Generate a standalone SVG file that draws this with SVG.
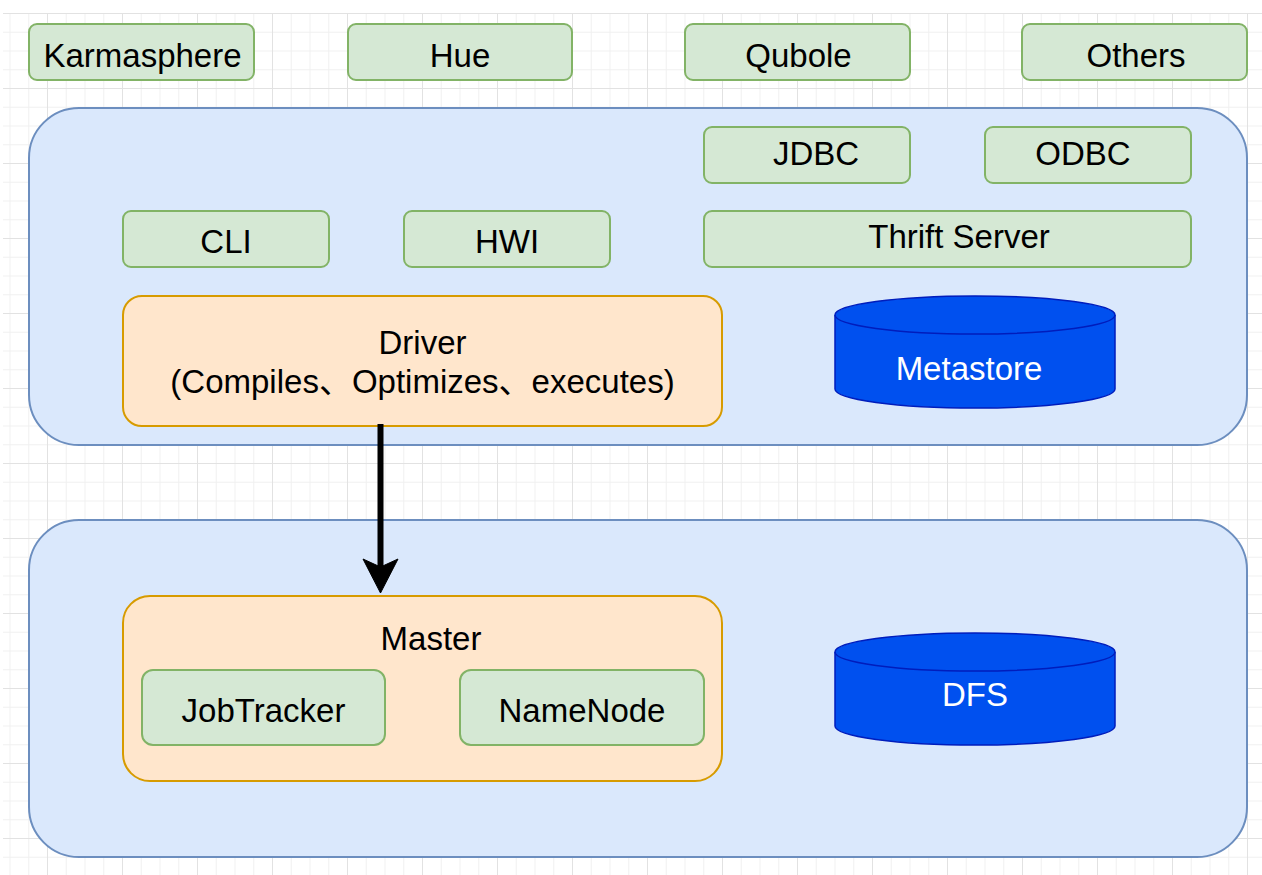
<svg xmlns="http://www.w3.org/2000/svg" width="1262" height="875" viewBox="0 0 1262 875">
<style>
  .g { fill: #d5e8d4; stroke: #82b366; stroke-width: 2; }
  .o { fill: #ffe6cc; stroke: #d79b00; stroke-width: 2; }
  .b { fill: #dae8fc; stroke: #6c8ebf; stroke-width: 2; }
  .c { fill: #0050ef; stroke: #001dbc; stroke-width: 1.5; }
  text { font-family: "Liberation Sans", Arial, "Noto Sans CJK SC", sans-serif; font-size: 33px; text-anchor: middle; fill: #000; }
  .w { fill: #fff; }
</style>
<defs>
  <pattern id="grid" patternUnits="userSpaceOnUse" x="-28" y="13" width="75" height="75">
    <rect width="75" height="75" fill="#fff"/>
    <g fill="#f1f1f1">
      <rect x="18.75" y="0" width="1" height="75"/>
      <rect x="37.5" y="0" width="1" height="75"/>
      <rect x="56.25" y="0" width="1" height="75"/>
      <rect x="0" y="18.75" width="75" height="1"/>
      <rect x="0" y="37.5" width="75" height="1"/>
      <rect x="0" y="56.25" width="75" height="1"/>
    </g>
    <g fill="#e2e2e2">
      <rect x="0" y="0" width="1" height="75"/>
      <rect x="0" y="0" width="75" height="1"/>
    </g>
  </pattern>
</defs>
<rect x="0" y="0" width="1262" height="875" fill="#fff"/>
<rect x="3" y="13" width="1259" height="862" fill="url(#grid)"/>

<g id="top-container"><rect class="b" x="29" y="108" width="1218" height="337" rx="50"/></g>
<g id="bottom-container"><rect class="b" x="29" y="520" width="1218" height="337" rx="50"/></g>

<g id="karmasphere"><rect class="g" x="29" y="24" width="225" height="56" rx="8"/><text x="142.5" y="67">Karmasphere</text></g>
<g id="hue"><rect class="g" x="348" y="24" width="224" height="56" rx="8"/><text x="460" y="67">Hue</text></g>
<g id="qubole"><rect class="g" x="685" y="24" width="225" height="56" rx="8"/><text x="798.5" y="67">Qubole</text></g>
<g id="others"><rect class="g" x="1022" y="24" width="225" height="56" rx="8"/><text x="1136" y="67">Others</text></g>

<g id="jdbc"><rect class="g" x="704" y="127" width="206" height="56" rx="8"/><text x="816" y="165">JDBC</text></g>
<g id="odbc"><rect class="g" x="985" y="127" width="206" height="56" rx="8"/><text x="1083" y="165">ODBC</text></g>
<g id="cli"><rect class="g" x="123" y="211" width="206" height="56" rx="8"/><text x="226" y="253">CLI</text></g>
<g id="hwi"><rect class="g" x="404" y="211" width="206" height="56" rx="8"/><text x="507" y="253">HWI</text></g>
<g id="thrift"><rect class="g" x="704" y="211" width="487" height="56" rx="8"/><text x="959" y="248">Thrift Server</text></g>

<g id="driver"><rect class="o" x="123" y="296" width="599" height="130" rx="19"/><text x="422.5" y="354">Driver</text><text x="422.5" y="393">(Compiles、Optimizes、executes)</text></g>

<g id="metastore">
  <path class="c" d="M835,315 a140,19 0 0 1 280,0 v74 a140,19 0 0 1 -280,0 z"/>
  <path class="c" fill="none" d="M835,315 a140,19 0 0 0 280,0"/>
  <text class="w" x="969" y="380">Metastore</text>
</g>

<g id="master">
  <rect class="o" x="123" y="596" width="599" height="185" rx="27"/>
  <text x="431" y="650">Master</text>
</g>
<g id="jobtracker"><rect class="g" x="142" y="670" width="243" height="75" rx="11"/><text x="263.5" y="722">JobTracker</text></g>
<g id="namenode"><rect class="g" x="460" y="670" width="244" height="75" rx="11"/><text x="582" y="722">NameNode</text></g>

<g id="dfs">
  <path class="c" d="M835,652 a140,19 0 0 1 280,0 v74 a140,19 0 0 1 -280,0 z"/>
  <path class="c" fill="none" d="M835,652 a140,19 0 0 0 280,0"/>
  <text class="w" x="975" y="706">DFS</text>
</g>

<g id="connectors">
  <line x1="380.5" y1="424" x2="380.5" y2="568" stroke="#000" stroke-width="6"/>
  <path d="M363,559 L380.5,567 L398,559 L380.5,593 Z" fill="#000" stroke="#000" stroke-width="1" stroke-linejoin="miter"/>
</g>
</svg>
